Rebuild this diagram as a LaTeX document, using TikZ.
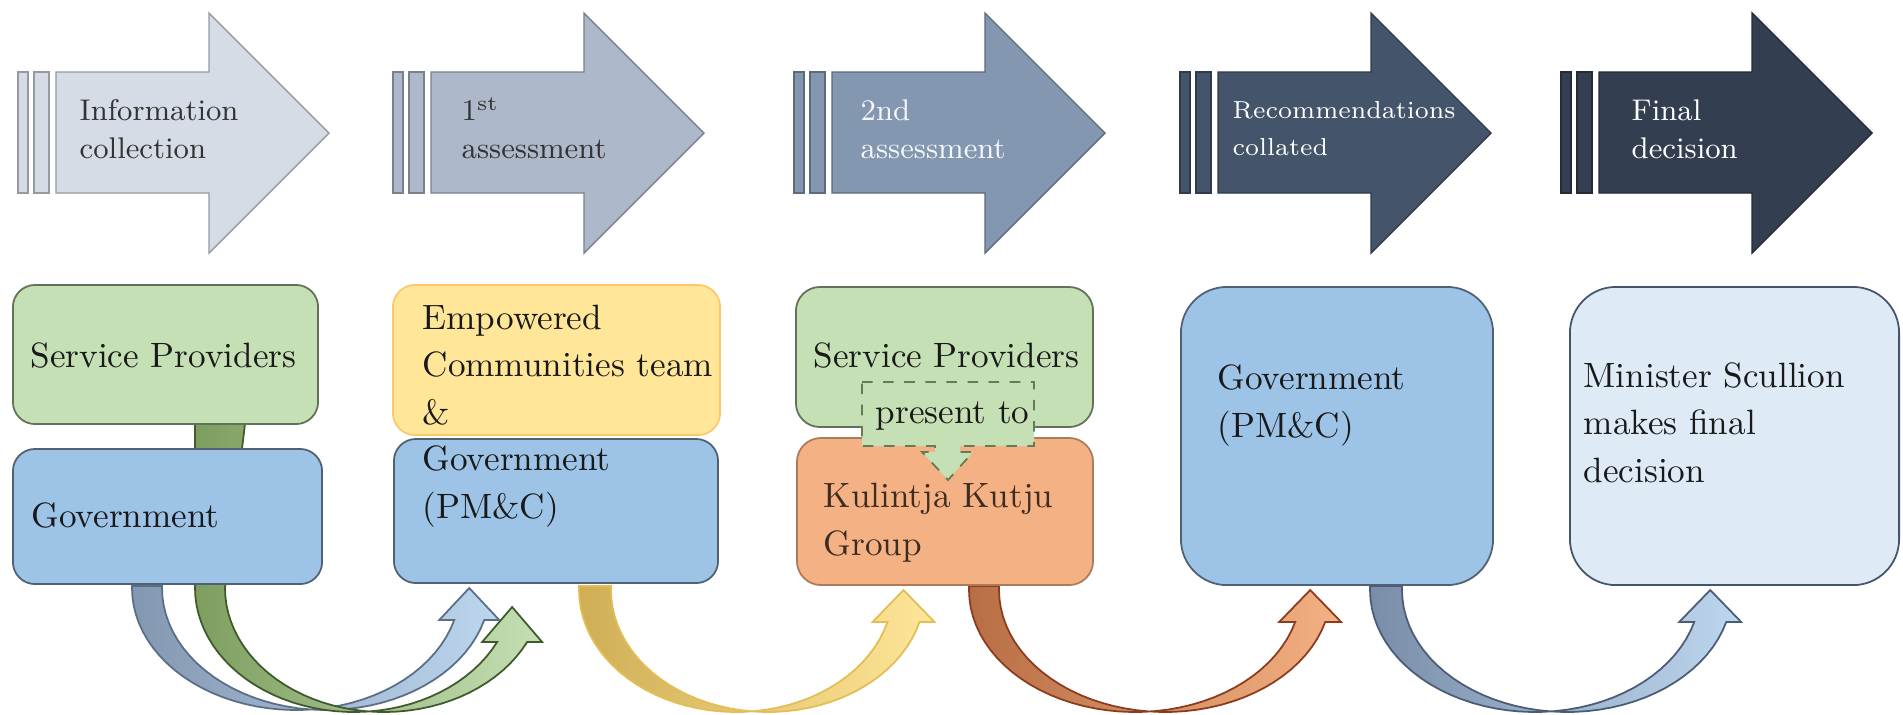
\documentclass[tikz,border=0pt]{standalone}
\usepackage{tikz}
\definecolor{arA}{HTML}{D6DCE5}
\definecolor{arB}{HTML}{ADB9CA}
\definecolor{arC}{HTML}{8497B0}
\definecolor{arD}{HTML}{44546A}
\definecolor{arE}{HTML}{333F50}
\definecolor{boxgreen}{HTML}{C5E0B4}
\definecolor{boxblue}{HTML}{9DC3E6}
\definecolor{boxyellow}{HTML}{FFE699}
\definecolor{boxorange}{HTML}{F4B183}
\definecolor{boxpale}{HTML}{DEEBF7}
% curved arrow colours: dark end, light end, outline
\definecolor{ubAl}{HTML}{8497B0}\definecolor{ubAr}{HTML}{BDD7EE}\definecolor{ubAd}{HTML}{5A6E8A}
\definecolor{ugrl}{HTML}{7E9E60}\definecolor{ugrr}{HTML}{C5E0B4}\definecolor{ugrd}{HTML}{3F5A2C}
\definecolor{uyel}{HTML}{CFAE55}\definecolor{uyer}{HTML}{FFE699}\definecolor{uyed}{HTML}{E3BE55}
\definecolor{uorl}{HTML}{B86E45}\definecolor{uorr}{HTML}{F4B183}\definecolor{uord}{HTML}{8A3C1E}
\definecolor{ubBl}{HTML}{7A8DA8}\definecolor{ubBr}{HTML}{BDD7EE}\definecolor{ubBd}{HTML}{4A5C78}

\begin{document}
\begin{tikzpicture}[x=0.01cm, y=-0.01cm,
      every node/.style={inner sep=0pt},
      stage/.style={fill=#1, draw=#1!70!black, line width=0.4pt},
      stagetxt/.style={anchor=base west, align=left, font=\fontsize{8.5}{10.8}\selectfont},
      card/.style={draw=#1!50!black, fill=#1, line width=0.5pt},
      boxtxt/.style={anchor=base west, align=left, text=black!90, font=\fontsize{10}{13.4}\selectfont}]
    \fill[white] (0,0) rectangle (1903,714);
    \useasboundingbox (0,0) rectangle (1903,714);

    % process chevrons along the top
    \foreach \s/\col in {18/arA,393/arB,794/arC,1180/arD,1561/arE}{
      \filldraw[stage=\col] (\s,72) rectangle ++(10,121);
      \filldraw[stage=\col] ({\s+16},72) rectangle ++(15,121);
      \filldraw[stage=\col] ({\s+38},72) -- ++(153,0) -- ++(0,-59) -- ({\s+311},133)
        -- ({\s+191},253) -- ++(0,-60) -- ({\s+38},193) -- cycle;
    }
    % (base of a two-line label = its last line)
    \node[stagetxt, text=black!80] (collect) at (79,158) {Information\\collection};
    \node[stagetxt, text=black!80] (assess1) at (461,158) {1\textsuperscript{st}\\assessment};
    \node[stagetxt, text=white!92!arC] (assess2) at (860,158) {2nd\\assessment};
    \node[stagetxt, text=white, font=\fontsize{7}{10.3}\selectfont] (collate) at (1232,155) {Recommendations\\collated};
    \node[stagetxt, text=white] (decide) at (1631,158) {Final\\decision};

    % u-turn arrows under the boxes
    \foreach \xl/\bw/\ax/\by/\yt/\yb/\tp/\ew/\ys/\dw/\nm in {
        132/30/164/122/588/620/588/15/586/0/ubA,
        195/30/159/124/588/642/607/15/424/20/ugr,
        579/32/157/122/590/622/590/15/586/0/uye,
        969/30/166/122/590/622/590/16/586/0/uor,
        1370/32/165/122/590/622/590/15/586/0/ubB}{
      \pgfmathsetmacro\ang{asin((\yb-\yt)/\by)}
      \pgfmathsetmacro\ucx{\xl+\ax}
      \pgfmathsetmacro\uL{\ucx+\ax*cos(\ang)}
      \pgfmathsetmacro\uR{\uL+\bw}
      \pgfmathsetmacro\uM{(\uL+\uR)/2}
      \draw[draw=\nm d, left color=\nm l, right color=\nm r, line width=0.5pt]
        (\xl,\ys) -- (\xl,\yt)
        -- plot[domain=180:\ang, samples=40, variable=\q] ({\ucx+\ax*cos(\q)},{\yt+\by*sin(\q)})
        -- ({\uL-\ew},\yb) -- (\uM,\tp) -- ({\uR+\ew},\yb)
        -- plot[domain=\ang:180, samples=40, variable=\q] ({\ucx+\bw+\ax*cos(\q)},{\yt+\by*sin(\q)})
        -- ({\xl+\bw+\dw},\ys) -- cycle;
    }

    % boxes
    \node[card=boxgreen, minimum width=3.05cm, minimum height=1.39cm, rounded corners=0.22cm] (spA) at (165.5,354.5) {};
    \node[card=boxblue, minimum width=3.09cm, minimum height=1.35cm, rounded corners=0.22cm] (govA) at (167.5,516.5) {};
    \node[draw=boxyellow!70!orange, fill=boxyellow, line width=0.5pt, minimum width=3.27cm, minimum height=1.5cm, rounded corners=0.22cm] (ect) at (556.5,360) {};
    \node[card=boxblue, minimum width=3.24cm, minimum height=1.44cm, rounded corners=0.22cm] (govB) at (556,511) {};
    \node[card=boxgreen, minimum width=2.97cm, minimum height=1.4cm, rounded corners=0.24cm] (spB) at (944.5,357) {};
    \node[draw=boxorange!70!black, fill=boxorange, line width=0.5pt, minimum width=2.96cm, minimum height=1.47cm, rounded corners=0.24cm] (kkg) at (945,511.5) {};
    \node[card=boxblue, minimum width=3.12cm, minimum height=2.98cm, rounded corners=0.46cm] (govC) at (1337,436) {};
    \node[draw=arD, fill=boxpale, line width=0.5pt, minimum width=3.29cm, minimum height=2.98cm, rounded corners=0.46cm] (minister) at (1734.5,436) {};

    \node[boxtxt] (spA-t) at (30,367) {Service Providers};
    \node[boxtxt] (govA-t) at (31,527) {Government};
    \node[boxtxt] (ect-t) at (422,424) {Empowered\\Communities team\\\&};
    \node[boxtxt] (govB-t) at (422,518) {Government\\(PM\&C)};
    \node[boxtxt] (spB-t) at (813,367) {Service Providers};
    \node[boxtxt, text=black!75!boxorange] (kkg-t) at (823,555) {Kulintja Kutju\\Group};
    \node[boxtxt] (govC-t) at (1217,437) {Government\\(PM\&C)};
    \node[boxtxt] (minister-t) at (1583,482) {Minister Scullion\\makes final\\decision};

    % dashed callout between the middle boxes
    \draw[fill=boxgreen, draw=ugrd!80, dashed, line width=0.5pt]
      (862,382) -- (1034,382) -- (1034,446) -- (960,446) -- (960,452) -- (973,452)
      -- (948,480) -- (922,452) -- (935,452) -- (935,446) -- (862,446) -- cycle;
    \node[boxtxt] (present) at (875,423) {present to};
  \end{tikzpicture}
\end{document}
